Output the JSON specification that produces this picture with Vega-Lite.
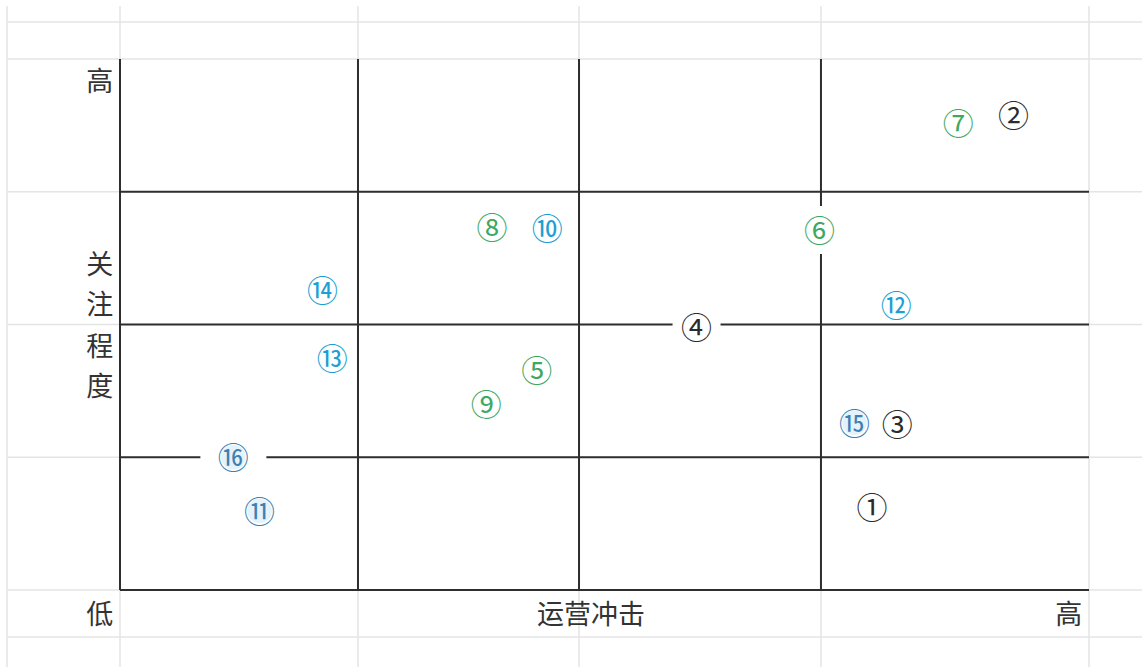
{
  "$schema": "https://vega.github.io/schema/vega-lite/v6.json",
  "width": 1142,
  "height": 667,
  "autosize": "none",
  "padding": 0,
  "background": "white",
  "datasets": {
    "grid": [
      {"x": -11.66, "x2": -11.66, "y": 109.98, "y2": -14.5},
      {"x": 0, "x2": 0, "y": 109.98, "y2": -14.5},
      {"x": 24.56, "x2": 24.56, "y": 109.98, "y2": -14.5},
      {"x": 47.37, "x2": 47.37, "y": 109.98, "y2": -14.5},
      {"x": 72.34, "x2": 72.34, "y": 109.98, "y2": -14.5},
      {"x": 100, "x2": 100, "y": 109.98, "y2": -14.5},
      {"x": -11.66, "x2": 105.47, "y": 106.97, "y2": 106.97},
      {"x": -11.66, "x2": 105.47, "y": 100, "y2": 100},
      {"x": -11.66, "x2": 105.47, "y": 75, "y2": 75},
      {"x": -11.66, "x2": 105.47, "y": 50, "y2": 50},
      {"x": -11.66, "x2": 105.47, "y": 25, "y2": 25},
      {"x": -11.66, "x2": 105.47, "y": 0, "y2": 0},
      {"x": -11.66, "x2": 105.47, "y": -8.85, "y2": -8.85}
    ],
    "lines": [
      {"x": 0, "x2": 0, "y": 0, "y2": 100},
      {"x": 24.56, "x2": 24.56, "y": 0, "y2": 100},
      {"x": 47.37, "x2": 47.37, "y": 0, "y2": 100},
      {"x": 72.34, "x2": 72.34, "y": 0, "y2": 100},
      {"x": 0, "x2": 100, "y": 0, "y2": 0},
      {"x": 0, "x2": 100, "y": 25, "y2": 25},
      {"x": 0, "x2": 100, "y": 50, "y2": 50},
      {"x": 0, "x2": 100, "y": 75, "y2": 75}
    ],
    "points": [
      {"id": 1, "label": "①", "group": "black", "x": 77.6, "y": 15.6},
      {"id": 2, "label": "②", "group": "black", "x": 92.2, "y": 89.5},
      {"id": 3, "label": "③", "group": "black", "x": 80.2, "y": 31.3},
      {"id": 4, "label": "④", "group": "black", "x": 59.5, "y": 49.5},
      {"id": 5, "label": "⑤", "group": "green", "x": 43.0, "y": 41.4},
      {"id": 6, "label": "⑥", "group": "green", "x": 72.2, "y": 67.8},
      {"id": 7, "label": "⑦", "group": "green", "x": 86.5, "y": 87.9},
      {"id": 8, "label": "⑧", "group": "green", "x": 38.4, "y": 68.4},
      {"id": 9, "label": "⑨", "group": "green", "x": 37.8, "y": 35.0},
      {"id": 10, "label": "⑩", "group": "cyan", "x": 44.1, "y": 68.2},
      {"id": 11, "label": "⑪", "group": "steel", "x": 14.4, "y": 14.9},
      {"id": 12, "label": "⑫", "group": "cyan", "x": 80.1, "y": 53.7},
      {"id": 13, "label": "⑬", "group": "cyan", "x": 21.9, "y": 43.7},
      {"id": 14, "label": "⑭", "group": "cyan", "x": 20.9, "y": 56.5},
      {"id": 15, "label": "⑮", "group": "steel", "x": 75.8, "y": 31.5},
      {"id": 16, "label": "⑯", "group": "steel", "x": 11.7, "y": 25.0}
    ],
    "labels": [
      {"text": "高", "x": -2.1, "y": 95.7},
      {"text": "关", "x": -2.1, "y": 61.2},
      {"text": "注", "x": -2.1, "y": 53.7},
      {"text": "程", "x": -2.1, "y": 45.7},
      {"text": "度", "x": -2.1, "y": 38.2},
      {"text": "低", "x": -2.1, "y": -4.7},
      {"text": "运营冲击", "x": 48.6, "y": -4.7},
      {"text": "高", "x": 97.9, "y": -4.7}
    ]
  },
  "encoding": {
    "x": {"field": "x", "type": "quantitative", "scale": {"domain": [-12.384, 105.47], "nice": false, "zero": false}, "axis": null},
    "y": {"field": "y", "type": "quantitative", "scale": {"domain": [-14.5, 111.11], "nice": false, "zero": false}, "axis": null}
  },
  "layer": [
    {
      "data": {"name": "grid"},
      "mark": {"type": "rule", "color": "#e4e4e4", "strokeWidth": 1.5},
      "encoding": {"x2": {"field": "x2"}, "y2": {"field": "y2"}}
    },
    {
      "data": {"name": "lines"},
      "mark": {"type": "rule", "color": "#2e2e2e", "strokeWidth": 2},
      "encoding": {"x2": {"field": "x2"}, "y2": {"field": "y2"}}
    },
    {
      "data": {"name": "points"},
      "transform": [{"filter": {"field": "id", "oneOf": [4, 6]}}],
      "mark": {"type": "point", "shape": "square", "filled": true, "color": "white", "opacity": 1, "size": 2304, "strokeWidth": 0},
      "encoding": {}
    },
    {
      "data": {"name": "points"},
      "transform": [{"filter": "datum.id == 16"}],
      "mark": {"type": "point", "shape": "square", "filled": true, "color": "white", "opacity": 1, "size": 4356, "strokeWidth": 0},
      "encoding": {}
    },
    {
      "data": {"name": "points"},
      "transform": [{"filter": "datum.group == 'steel'"}],
      "mark": {"type": "point", "shape": "circle", "filled": true, "color": "#e2f3fb", "opacity": 1, "size": 600, "strokeWidth": 0},
      "encoding": {}
    },
    {
      "data": {"name": "points"},
      "mark": {"type": "text", "font": "Noto Sans CJK SC", "fontSize": 31, "align": "center", "baseline": "middle", "dy": 3},
      "encoding": {
        "text": {"field": "label"},
        "color": {
          "field": "group",
          "type": "nominal",
          "scale": {"domain": ["black", "green", "cyan", "steel"], "range": ["#2b2b2b", "#3da862", "#1c9fd3", "#3f7fb2"]},
          "legend": null
        }
      }
    },
    {
      "data": {"name": "labels"},
      "mark": {"type": "text", "font": "Noto Sans CJK SC", "fontSize": 27, "align": "center", "baseline": "middle", "dy": 1, "color": "#333333"},
      "encoding": {"text": {"field": "text"}}
    }
  ],
  "config": {"view": {"stroke": null}}
}
